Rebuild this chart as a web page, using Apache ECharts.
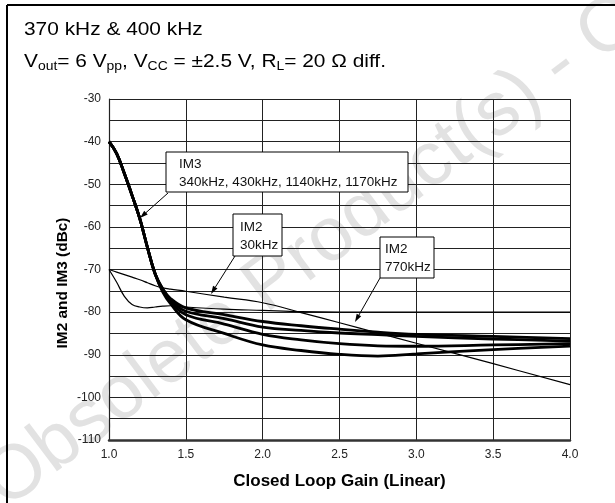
<!DOCTYPE html>
<html>
<head>
<meta charset="utf-8">
<script src="https://cdn.jsdelivr.net/npm/echarts@6/dist/echarts.min.js"></script>
<style>
html,body{margin:0;padding:0;background:#fff;}
#c{width:615px;height:503px;}
</style>
</head>
<body>
<div id="c"></div>
<script>
// ---- data ----
var gain = [1.0, 1.05, 1.1, 1.15, 1.2, 1.25, 1.3, 1.35, 1.4, 1.5, 1.75, 2.0, 2.25, 2.5, 2.75, 3.0, 3.5, 4.0];
var im3A = [-40, -42.8, -47.5, -52.6, -58, -64.8, -71, -74.5, -76.8, -79.0, -80.6, -82.2, -83.2, -84.0, -84.7, -85.2, -85.7, -86.2];
var im3B = [-40, -42.8, -47.5, -52.6, -58, -64.8, -71, -74.7, -77.1, -79.8, -81.5, -83.5, -84.3, -84.9, -85.3, -85.7, -86.3, -86.8];
var im3C = [-40, -42.8, -47.5, -52.6, -58, -64.8, -71, -75.0, -77.5, -80.6, -82.8, -85.2, -86.5, -87.4, -87.9, -88.0, -87.7, -87.4];
var im3D = [-40, -42.8, -47.5, -52.6, -58, -64.8, -71, -75.3, -78.0, -81.8, -85.0, -87.7, -89.0, -89.9, -90.3, -89.8, -88.8, -88.0];
var im2Dip = [-70, -73.0, -76.3, -78.2, -78.8, -79.0, -78.8, -78.6, -78.5, -78.8, -79.3, -79.6, -79.9, -80.0, -80.0, -80.0, -80.0, -80.0];
var im2Slope = [-70, -70.6, -71.2, -71.8, -72.4, -73.1, -73.8, -74.3, -74.6, -75.1, -76.5, -77.8, -80.1, -82.5, -84.9, -87.3, -92.1, -97.0];
var xTicks = ['1.0', '1.5', '2.0', '2.5', '3.0', '3.5', '4.0'];
var yTicks = [-30, -40, -50, -60, -70, -80, -90, -100, -110];

var titleLine1 = '370 kHz & 400 kHz';
var titleLine2 = 'V{sub|out}= 6 V{sub|pp}, V{sub|CC} = \u00b12.5 V, R{sub|L}= 20 \u03a9 diff.';
var yName = 'IM2 and IM3 (dBc)';
var xName = 'Closed Loop Gain (Linear)';
var noteIM3 = ['IM3', '340kHz, 430kHz, 1140kHz, 1170kHz'];
var noteIM2a = ['IM2', '30kHz'];
var noteIM2b = ['IM2', '770kHz'];
var watermark = 'Obsolete Product(s) - Obsolete Product(s)';

function pairs(ys) { return gain.map(function (g, i) { return [g, ys[i]]; }); }

var FONT = '"Liberation Sans", Arial, Helvetica, sans-serif';

function arrow(x1, y1, x2, y2) {
  var dx = x2 - x1, dy = y2 - y1, L = Math.sqrt(dx * dx + dy * dy);
  var ux = dx / L, uy = dy / L, len = 8, hw = 2.6;
  var bx = x2 - ux * len, by = y2 - uy * len;
  return [
    { type: 'line', z: 50, shape: { x1: x1, y1: y1, x2: bx, y2: by }, style: { stroke: '#000', lineWidth: 1 } },
    { type: 'polygon', z: 50, shape: { points: [[x2, y2], [bx - uy * hw, by + ux * hw], [bx + uy * hw, by - ux * hw]] }, style: { fill: '#000' } }
  ];
}
function note(x, y, w, h, lines, padL) {
  return [
    { type: 'rect', z: 50, shape: { x: x, y: y, width: w, height: h }, style: { fill: '#fff', stroke: '#000', lineWidth: 1 } },
    { type: 'text', z: 51, x: x + padL, y: y + h / 2 + 1, style: { text: lines.join('\n'), font: '13.5px ' + FONT, fill: '#111', lineHeight: 18, verticalAlign: 'middle', textAlign: 'left' } }
  ];
}

var thick = { color: '#000', width: 2.8 };
var thin = { color: '#000', width: 1.2 };
function mk(data, ls) {
  return { type: 'line', data: pairs(data), showSymbol: false, symbol: 'none', smooth: 0.4, lineStyle: ls, z: 5, silent: true };
}

var graphics = [
  { type: 'text', z: -10, x: 560, y: 66, rotation: 37 * Math.PI / 180, style: { text: watermark, font: '76px ' + FONT, fill: '#e2e2e2', textAlign: 'center', verticalAlign: 'middle' } },
  { type: 'line', z: 60, shape: { x1: 7, y1: 5, x2: 615, y2: 5 }, style: { stroke: '#000', lineWidth: 2 } },
  { type: 'line', z: 60, shape: { x1: 7, y1: 5, x2: 7, y2: 503 }, style: { stroke: '#000', lineWidth: 2 } },
  { type: 'text', z: 60, x: 24, y: 21, scaleX: 1.16, style: { text: titleLine1, font: '18px ' + FONT, fill: '#000' } },
  { type: 'text', z: 60, x: 24, y: 52, scaleX: 1.16, style: { text: titleLine2, fontSize: 18, fontFamily: FONT, fill: '#000', rich: { sub: { fontSize: 12, fontFamily: FONT, padding: [9, 0, 0, 0] } } } },
  { type: 'text', z: 60, x: 63, y: 283, rotation: Math.PI / 2, scaleX: 1.1, style: { text: yName, font: 'bold 14px ' + FONT, fill: '#000', textAlign: 'center', verticalAlign: 'middle' } }
];
graphics = graphics.concat(note(166, 152, 242, 40, noteIM3, 13), note(233, 214, 49, 42, noteIM2a, 7), note(380, 237, 54, 41, noteIM2b, 5));
graphics = graphics.concat(arrow(168, 193, 140, 218), arrow(235, 256, 211, 294), arrow(380, 278, 355, 322));

var chart = echarts.init(document.getElementById('c'), null, { renderer: 'canvas' });
chart.setOption({
  animation: false,
  backgroundColor: '#fff',
  grid: { left: 109, top: 99, right: 45, bottom: 63, containLabel: false },
  xAxis: {
    type: 'value', min: 1, max: 4, interval: 0.5,
    name: xName, nameLocation: 'middle', nameGap: 33,
    nameTextStyle: { fontFamily: FONT, fontSize: 17, fontWeight: 'bold', color: '#000' },
    axisLine: { show: true, lineStyle: { color: '#333', width: 2.5 } },
    axisTick: { show: false },
    axisLabel: { fontFamily: FONT, fontSize: 12, color: '#222', margin: 9, formatter: function (v) { var s = v.toFixed(1); return xTicks.indexOf(s) >= 0 ? s : ''; } },
    splitLine: { show: true, lineStyle: { color: '#222', width: 1 } }
  },
  yAxis: {
    type: 'value', min: -110, max: -30, interval: 5,
    axisLine: { show: true, lineStyle: { color: '#222', width: 1.2 } },
    axisTick: { show: false },
    axisLabel: { fontFamily: FONT, fontSize: 12, color: '#222', margin: 8, formatter: function (v) { return yTicks.indexOf(v) >= 0 ? String(v) : ''; } },
    splitLine: { show: true, lineStyle: { color: '#222', width: 1 } }
  },
  series: [mk(im3A, thick), mk(im3B, thick), mk(im3C, thick), mk(im3D, thick), mk(im2Dip, thin), mk(im2Slope, thin)],
  graphic: graphics
});
</script>
</body>
</html>
